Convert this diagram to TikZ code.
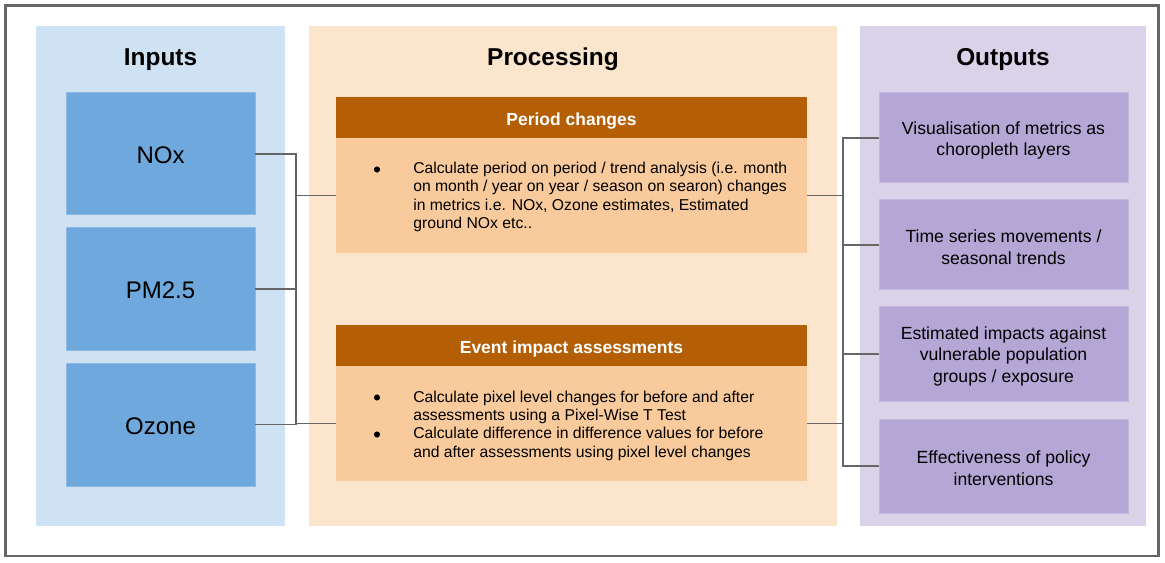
\documentclass[tikz,border=0pt]{standalone}
\usepackage{fontspec}
\setmainfont{Liberation Sans}
\definecolor{framegray}{HTML}{666666}
\definecolor{inpanel}{HTML}{CFE2F3}
\definecolor{inbox}{HTML}{6FA8DC}
\definecolor{inedge}{HTML}{8DB9E2}
\definecolor{prpanel}{HTML}{FCE5CD}
\definecolor{prhead}{HTML}{B45F06}
\definecolor{prbody}{HTML}{F9CB9C}
\definecolor{outpanel}{HTML}{D9D2E9}
\definecolor{outbox}{HTML}{B4A7D6}
\definecolor{outedge}{HTML}{C3B8DE}
\begin{document}
\begin{tikzpicture}[x=0.75pt,y=-0.75pt,
  sz/.style 2 args={minimum width=#1*0.75pt,minimum height=#2*0.75pt,inner sep=0pt,outer sep=0pt},
  panel/.style={rectangle,fill=#1,draw=none},
  inputbox/.style={rectangle,fill=inbox,draw=inedge,line width=0.75pt,
    font=\fontsize{18}{21}\selectfont,text height=14.9pt,text depth=0pt},
  headbox/.style={rectangle,fill=prhead,draw=none,text=white,
    font=\fontsize{13.1}{15}\selectfont\bfseries,text height=11.4pt,text depth=0pt},
  bodybox/.style={rectangle,fill=prbody,draw=none},
  outputbox/.style={rectangle,fill=outbox,draw=outedge,line width=0.75pt},
  outtext/.style={align=center,inner sep=0pt,yshift=-1.7pt,font=\fontsize{13.2}{16}\selectfont},
  paneltitle/.style={font=\fontsize{18.3}{21}\selectfont\bfseries},
  bodytext/.style={anchor=west,align=left,inner sep=0pt,font=\fontsize{11.8}{13.75}\selectfont},
  bullet/.style={circle,fill=black,draw=none,inner sep=0pt,minimum size=4.6pt},
  link/.style={draw=framegray,line width=1.3pt}]
\useasboundingbox (0,0) rectangle (1165,563);
% outer frame
\draw[framegray,line width=1.6pt] (5.5,5.5) rectangle (1158.5,556);

% column panels
\node[panel=inpanel,sz={249}{500}] (inpanel) at (160.5,276) {};
\node[panel=prpanel,sz={528}{500}] (prpanel) at (573,276) {};
\node[panel=outpanel,sz={286}{500}] (outpanel) at (1003,276) {};
\node[paneltitle] (tin) at (160.5,59.5) {Inputs};
\node[paneltitle] (tpr) at (553,59.5) {Processing};
\node[paneltitle] (tout) at (1003,59.5) {Outputs};

% inputs
\node[inputbox,sz={189}{122}] (nox) at (160.5,154) {NOx};
\node[inputbox,sz={189}{122}] (pm) at (160.5,289) {PM2.5};
\node[inputbox,sz={189}{123}] (ozone) at (160.5,424.5) {Ozone};

% processing blocks
\node[headbox,sz={471}{41}] (phead) at (571.5,117.5) {Period changes};
\node[bodybox,sz={471}{115}] (pbody) at (571.5,195.5) {};
\node[bullet] (pb1) at (377,169.5) {};
\node[bodytext] (ptext) at (413,197) {Calculate period on period / trend analysis (i.e. month\\on month / year on year / season on searon) changes\\in metrics i.e. NOx, Ozone estimates, Estimated\\ground NOx etc..};

\node[headbox,sz={471}{41}] (ehead) at (571.5,345.5) {Event impact assessments};
\node[bodybox,sz={471}{115}] (ebody) at (571.5,423.5) {};
\node[bullet] (eb1) at (377,397.5) {};
\node[bullet] (eb2) at (377,434.5) {};
\node[bodytext] (etext) at (413,425.5) {Calculate pixel level changes for before and after\\assessments using a Pixel-Wise T Test\\Calculate difference in difference values for before\\and after assessments using pixel level changes};

% outputs
\node[outputbox,sz={249}{90}] (o1) at (1003.5,138) {};
\node[outputbox,sz={249}{90}] (o2) at (1003.5,245) {};
\node[outputbox,sz={249}{94}] (o3) at (1003.5,354) {};
\node[outputbox,sz={249}{94}] (o4) at (1003.5,466) {};
\node[outtext] (o1t) at (o1.center) {Visualisation of metrics as\\choropleth layers};
\node[outtext] (o2t) at (o2.center) {Time series movements /\\seasonal trends};
\node[outtext] (o3t) at (o3.center) {Estimated impacts against\\vulnerable population\\groups / exposure};
\node[outtext] (o4t) at (o4.center) {Effectiveness of policy\\interventions};

% connectors
\coordinate (busL) at (296,0);
\coordinate (busR) at (843,0);
\draw[link] (nox.east) -- (nox.east -| busL) -- (ozone.east -| busL) -- (ozone.east);
\draw[link] (pm.east) -- (pm.east -| busL);
\draw[link] (busL |- pbody.west) -- (pbody.west);
\draw[link] (busL |- ebody.west) -- (ebody.west);

\draw[link] (pbody.east) -- (pbody.east -| busR);
\draw[link] (ebody.east) -- (ebody.east -| busR);
\draw[link] (o1.west) -- (o1.west -| busR) -- (o4.west -| busR) -- (o4.west);
\draw[link] (busR |- o2.west) -- (o2.west);
\draw[link] (busR |- o3.west) -- (o3.west);
\end{tikzpicture}
\end{document}
